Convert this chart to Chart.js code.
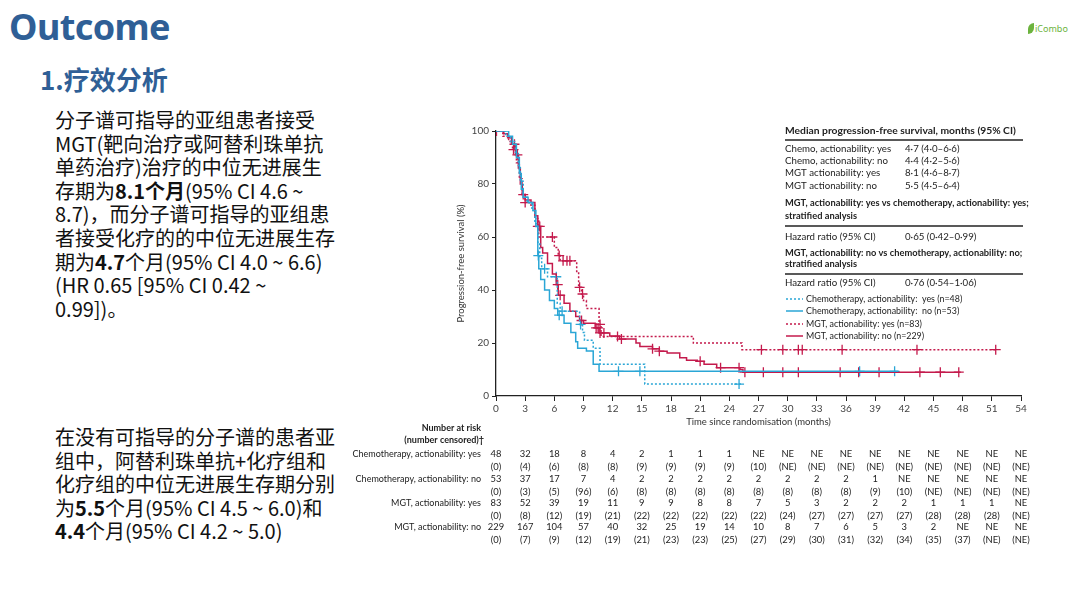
<!DOCTYPE html>
<html>
<head>
<meta charset="utf-8">
<script src="https://cdn.jsdelivr.net/npm/chart.js@4.4.1/dist/chart.umd.min.js"></script>
<style>
body{margin:0;width:1080px;height:608px;background:#fff;position:relative;overflow:hidden;font-family:"Noto Sans CJK SC","Noto Sans",sans-serif;}
#title{position:absolute;left:9px;top:2px;font:bold 36px "Noto Sans",sans-serif;color:#2f5f96;letter-spacing:-0.6px;}
#sub{position:absolute;left:40px;top:60px;font:bold 26px "Noto Sans CJK SC",sans-serif;color:#2f5f96;}
#logo{position:absolute;left:1028px;top:22px;font:9px "Noto Sans",sans-serif;color:#6cb33e;}
#logo i{display:inline-block;width:6px;height:11px;background:#6cb33e;border-radius:6px 0 6px 0;vertical-align:-2px;margin-right:1px;}
.txt{position:absolute;left:55px;font-size:20px;line-height:23.6px;color:#111;white-space:nowrap;}
.txt b{font-weight:bold;}
#t1{top:108px;}
#t2{top:425px;}
#wrap{position:absolute;left:340px;top:110px;width:700px;height:450px;}
</style>
</head>
<body>
<div id="title">Outcome</div>
<div id="sub">1.疗效分析</div>
<div id="logo"><i></i>iCombo</div>
<div class="txt" id="t1">分子谱可指导的亚组患者接受<br>MGT(靶向治疗或阿替利珠单抗<br>单药治疗)治疗的中位无进展生<br>存期为<b>8.1个月</b>(95% CI 4.6 ~<br>8.7)，而分子谱可指导的亚组患<br>者接受化疗的的中位无进展生存<br>期为<b>4.7</b>个月(95% CI 4.0 ~ 6.6)<br>(HR 0.65 [95% CI 0.42 ~<br>0.99])。</div>
<div class="txt" id="t2">在没有可指导的分子谱的患者亚<br>组中，阿替利珠单抗+化疗组和<br>化疗组的中位无进展生存期分别<br>为<b>5.5</b>个月(95% CI 4.5 ~ 6.0)和<br><b>4.4</b>个月(95% CI 4.2 ~ 5.0)</div>
<div id="wrap"><canvas id="km" width="700" height="450"></canvas></div>
<script>
// Kaplan-Meier step points (months, % progression-free)
const chemoYesT = [0, 1.0, 1.5, 2.0, 2.3, 2.5, 2.8, 3.2, 3.7, 4.0, 4.3, 4.5, 4.7, 5.3, 6.3, 6.6, 8.6, 8.9, 9.1, 10.0, 10.7, 15.3, 25.2];
const chemoYesS = [100, 98, 96, 92, 87, 81, 75, 73, 70, 65, 58, 52, 48, 45, 35, 32, 27, 24, 21, 18, 12, 4.5, 4.5];
const chemoNoT = [0, 1.3, 1.7, 2.1, 2.4, 2.6, 2.8, 3.3, 3.8, 4.1, 4.3, 4.4, 4.6, 5.0, 5.5, 6.0, 6.35, 7.0, 7.7, 8.2, 8.4, 9.3, 10.0, 10.6, 41.4];
const chemoNoS = [100, 98, 95, 90, 84, 78, 75, 73, 70, 64, 53, 48, 44, 40, 36, 33, 30.5, 27.5, 24, 20.5, 18, 17, 12, 9.3, 9.3];
const mgtYesT = [0, 0.7, 1.3, 1.7, 2.1, 2.4, 2.7, 3.0, 3.6, 4.0, 4.4, 6.0, 6.4, 6.6, 8.3, 8.5, 8.8, 9.0, 9.3, 10.6, 10.8, 20.3, 25.3, 51.5];
const mgtYesS = [100, 98, 96, 93, 88, 82, 76, 73, 72, 67, 60, 56, 53, 51, 47, 41, 38.5, 36, 33, 27, 22.5, 20, 17.5, 17.5];
const mgtNoT = [0, 0.8, 1.2, 1.6, 2.0, 2.3, 2.5, 2.7, 3.0, 3.6, 4.0, 4.3, 4.6, 4.8, 5.3, 5.8, 6.2, 6.4, 7.0, 7.6, 8.2, 8.6, 9.0, 10.2, 10.6, 11.7, 12.7, 14.4, 14.8, 16.1, 16.8, 17.6, 18.9, 19.6, 20.7, 21.4, 22.7, 25.1, 25.4, 47.8];
const mgtNoS = [100, 99, 97.5, 95, 91, 86, 80, 76, 74, 73, 68, 64, 56, 54, 50, 46, 42, 38, 35, 32, 30, 28.5, 27.5, 25.7, 23.8, 22.6, 21.5, 20, 18.7, 17.8, 16.9, 16.2, 14.4, 13.5, 13.1, 12, 10.7, 10, 9, 9];

// censoring times
const chemoYesCens = [5.0, 6.2, 6.8, 8.7, 25.0];
const chemoNoCens = [4.35, 6.5, 12.6, 14.8, 37.4, 41.0];
const mgtYesCens = [1.8, 3.0, 5.8, 6.5, 6.9, 7.3, 7.6, 8.6, 8.9, 10.7, 12.5, 27.3, 29.5, 31.1, 31.5, 35.6, 43.3, 51.4];
const mgtNoCens = [0.05, 1.9, 2.2, 2.8, 4.3, 4.5, 6.35, 6.6, 8.8, 10.3, 10.5, 10.7, 11.1, 12.9, 16.1, 16.8, 21.0, 23.1, 25.0, 25.6, 27.5, 29.5, 31.1, 35.4, 37.3, 39.4, 43.6, 45.7, 47.6];

// number at risk table
const riskTimes = [0, 3, 6, 9, 12, 15, 18, 21, 24, 27, 30, 33, 36, 39, 42, 45, 48, 51, 54];
const riskLabels = ['Chemotherapy, actionability: yes', 'Chemotherapy, actionability: no', 'MGT, actionability: yes', 'MGT, actionability: no'];
const riskChemoYes = [48, 32, 18, 8, 4, 2, 1, 1, 1, 'NE', 'NE', 'NE', 'NE', 'NE', 'NE', 'NE', 'NE', 'NE', 'NE'];
const censChemoYes = [0, 4, 6, 8, 8, 9, 9, 9, 9, 10, 'NE', 'NE', 'NE', 'NE', 'NE', 'NE', 'NE', 'NE', 'NE'];
const riskChemoNo = [53, 37, 17, 7, 4, 2, 2, 2, 2, 2, 2, 2, 2, 1, 'NE', 'NE', 'NE', 'NE', 'NE'];
const censChemoNo = [0, 3, 5, 96, 6, 8, 8, 8, 8, 8, 8, 8, 8, 9, 10, 'NE', 'NE', 'NE', 'NE'];
const riskMgtYes = [83, 52, 39, 19, 11, 9, 9, 8, 8, 7, 5, 3, 2, 2, 2, 1, 1, 1, 'NE'];
const censMgtYes = [0, 8, 12, 19, 21, 22, 22, 22, 22, 22, 24, 27, 27, 27, 27, 28, 28, 28, 'NE'];
const riskMgtNo = [229, 167, 104, 57, 40, 32, 25, 19, 14, 10, 8, 7, 6, 5, 3, 2, 'NE', 'NE', 'NE'];
const censMgtNo = [0, 7, 9, 12, 19, 21, 23, 23, 25, 27, 29, 30, 31, 32, 34, 35, 37, 'NE', 'NE'];

// median table
const medianRows = [['Chemo, actionability: yes', '4·7 (4·0–6·6)'], ['Chemo, actionability: no', '4·4 (4·2–5·6)'], ['MGT actionability: yes', '8·1 (4·6–8·7)'], ['MGT actionability: no', '5·5 (4·5–6·4)']];
const hrLabels = ['0·65 (0·42–0·99)', '0·76 (0·54–1·06)'];
const legendLabels = ['Chemotherapy, actionability:  yes (n=48)', 'Chemotherapy, actionability:  no (n=53)', 'MGT, actionability: yes (n=83)', 'MGT, actionability: no (n=229)'];

const CYAN = '#2aa6d6';
const RED = '#c41a4c';
const FONT = 'Lato, "Open Sans", sans-serif';

function pts(T, S) {
  return T.map((t, i) => ({x: t, y: S[i]}));
}
function survAt(T, S, t) {
  let v = S[0];
  for (let i = 0; i < T.length; i++) { if (T[i] <= t) v = S[i]; }
  return v;
}
function censPts(cens, T, S) {
  return cens.map(t => ({x: t, y: survAt(T, S, t)}));
}

function stepSet(label, T, S, color, dash) {
  return {type: 'line', label: label, data: pts(T, S), borderColor: color, borderWidth: 1.5,
    borderDash: dash, stepped: 'before', pointRadius: 0, fill: false};
}
function censSet(cens, T, S, color) {
  return {type: 'scatter', data: censPts(cens, T, S), borderColor: color, backgroundColor: color,
    pointStyle: 'cross', pointRadius: 5, borderWidth: 1.3, showLine: false};
}

const textPlugin = {
  id: 'kmText',
  afterDraw(chart) {
    const ctx = chart.ctx;
    const x = chart.scales.x;
    ctx.save();
    ctx.textBaseline = 'middle';
    ctx.fillStyle = '#222';

    // median PFS box
    const L = 445, V = 565, R = 683;
    ctx.textAlign = 'left';
    ctx.font = 'bold 10.3px ' + FONT;
    ctx.fillText('Median progression-free survival, months (95% CI)', L, 21);
    ctx.strokeStyle = '#222';
    ctx.lineWidth = 1.3;
    [30, 116, 164].forEach(y => { ctx.beginPath(); ctx.moveTo(L, y); ctx.lineTo(R, y); ctx.stroke(); });
    ctx.font = '9.7px ' + FONT;
    [39, 51, 63, 76].forEach((y, i) => {
      ctx.fillText(medianRows[i][0], L, y);
      ctx.fillText(medianRows[i][1], V, y);
    });
    ctx.font = 'bold 9.3px ' + FONT;
    ctx.fillText('MGT, actionability: yes vs chemotherapy, actionability: yes;', L, 93);
    ctx.fillText('stratified analysis', L, 106);
    ctx.fillText('MGT, actionability: no vs chemotherapy, actionability: no;', L, 143);
    ctx.fillText('stratified analysis', L, 154);
    ctx.font = '9.7px ' + FONT;
    ctx.fillText('Hazard ratio (95% CI)', L, 127);
    ctx.fillText(hrLabels[0], V, 127);
    ctx.fillText('Hazard ratio (95% CI)', L, 173);
    ctx.fillText(hrLabels[1], V, 173);

    // legend
    const legColors = [CYAN, CYAN, RED, RED];
    const legDash = [[2, 2], [], [2, 2], []];
    ctx.font = '8.9px ' + FONT;
    [189, 201, 214, 226].forEach((y, i) => {
      ctx.strokeStyle = legColors[i];
      ctx.lineWidth = 1.5;
      ctx.setLineDash(legDash[i]);
      ctx.beginPath(); ctx.moveTo(446, y); ctx.lineTo(463, y); ctx.stroke();
      ctx.setLineDash([]);
      ctx.fillText(legendLabels[i], 466, y);
    });

    // number at risk
    ctx.fillStyle = '#222';
    ctx.textAlign = 'right';
    ctx.font = 'bold 9px ' + FONT;
    ctx.fillText('Number at risk', 141, 318);
    ctx.fillText('(number censored)†', 144, 330);
    ctx.font = '9px ' + FONT;
    const rows = [[riskChemoYes, censChemoYes], [riskChemoNo, censChemoNo], [riskMgtYes, censMgtYes], [riskMgtNo, censMgtNo]];
    const rowY = [344, 369, 393, 417];
    rows.forEach((r, k) => {
      const y = rowY[k];
      ctx.textAlign = 'right';
      ctx.fillText(riskLabels[k], 141, y);
      ctx.textAlign = 'center';
      ctx.font = '9.4px ' + FONT;
      riskTimes.forEach((t, i) => {
        const px = x.getPixelForValue(t);
        ctx.fillText(String(r[0][i]), px, y);
        ctx.fillText('(' + r[1][i] + ')', px, y + 12.5);
      });
      ctx.font = '9px ' + FONT;
    });
    ctx.restore();
  }
};

new Chart(document.getElementById('km'), {
  data: {
    datasets: [
      stepSet('Chemotherapy, actionability: yes', chemoYesT, chemoYesS, CYAN, [2, 2]),
      stepSet('Chemotherapy, actionability: no', chemoNoT, chemoNoS, CYAN, []),
      stepSet('MGT, actionability: yes', mgtYesT, mgtYesS, RED, [2, 2]),
      stepSet('MGT, actionability: no', mgtNoT, mgtNoS, RED, []),
      censSet(chemoYesCens, chemoYesT, chemoYesS, CYAN),
      censSet(chemoNoCens, chemoNoT, chemoNoS, CYAN),
      censSet(mgtYesCens, mgtYesT, mgtYesS, RED),
      censSet(mgtNoCens, mgtNoT, mgtNoS, RED)
    ]
  },
  options: {
    responsive: false,
    animation: false,
    layout: {padding: {left: 115, right: 19, top: 21, bottom: 132}},
    plugins: {legend: {display: false}, tooltip: {enabled: false}},
    scales: {
      x: {
        type: 'linear', min: 0, max: 54,
        ticks: {stepSize: 3, color: '#444', font: {family: FONT, size: 10}, padding: 2, maxRotation: 0},
        grid: {drawOnChartArea: false, drawTicks: true, tickLength: 5, color: '#222'},
        border: {color: '#222', width: 1.3},
        title: {display: true, text: 'Time since randomisation (months)', color: '#333', font: {family: FONT, size: 9.5}, padding: 0},
        afterFit(s) { s.height = 32; }
      },
      y: {
        min: 0, max: 100,
        ticks: {stepSize: 20, color: '#444', font: {family: FONT, size: 10}, padding: 3},
        grid: {drawOnChartArea: false, drawTicks: true, tickLength: 4, color: '#222'},
        border: {color: '#222', width: 1.3},
        title: {display: true, text: 'Progression-free survival (%)', color: '#333', font: {family: FONT, size: 9.5}, padding: 0},
        afterFit(s) { s.width = 41; }
      }
    }
  },
  plugins: [textPlugin]
});
</script>
</body>
</html>
